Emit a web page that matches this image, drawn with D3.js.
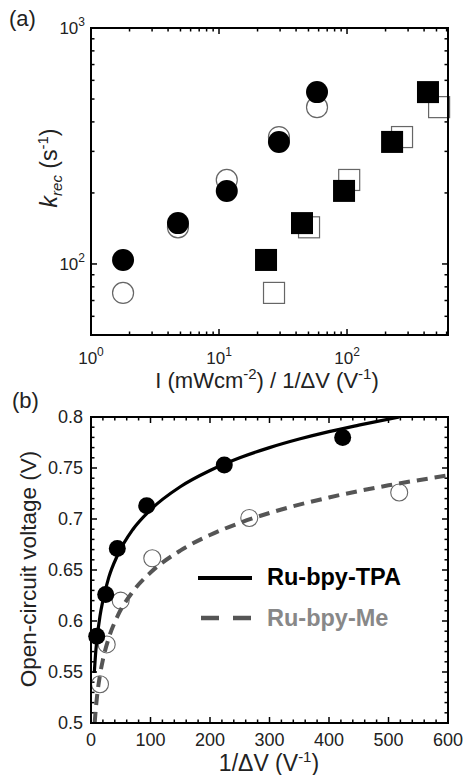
<!DOCTYPE html>
<html><head><meta charset="utf-8">
<script src="https://cdn.jsdelivr.net/npm/d3@7"></script>
<style>
html,body{margin:0;padding:0;background:#fff;}
svg{display:block;font-family:"Liberation Sans",Arial,sans-serif;}
</style></head>
<body>
<svg id="chart" width="465" height="775"></svg>
<script>
// ---------- Panel (a) data ----------
const aCircX      = [1.78, 4.78, 11.5, 29.4, 58.3];
const aFilledY    = [104, 149, 204, 329, 535];
const aOpenY      = [75.4, 143, 227, 345, 462];
const aSqFilledX  = [23.3, 44.5, 94.8, 225, 429];
const aSqOpenX    = [26.9, 50.5, 104, 269, 524];
const aXTickVals  = [1, 10, 100];
const aXTickLabels = ["0", "1", "2"];
const aYTickVals  = [100, 1000];
const aYTickLabels = ["2", "3"];

// ---------- Panel (b) data ----------
const bTpaX = [9.6, 24.7, 44.2, 93.6, 224, 423];
const bTpaY = [0.585, 0.626, 0.671, 0.713, 0.753, 0.780];
const bMeX  = [15.1, 26.4, 49.9, 103, 266, 518];
const bMeY  = [0.538, 0.577, 0.620, 0.6615, 0.701, 0.726];
// fitted curves
const fitTpaX = [5.5, 8, 10, 15, 20, 30, 45, 70, 100, 150, 200, 250, 300, 350, 400, 450, 518];
const fitTpaY = [0.549, 0.570, 0.582, 0.6045, 0.620, 0.643, 0.665, 0.6895, 0.709, 0.7316, 0.7475, 0.760, 0.770, 0.7784, 0.7857, 0.792, 0.800];
const fitMeX  = [6.2, 8, 10, 15, 20, 30, 45, 70, 100, 150, 200, 250, 300, 400, 500, 600];
const fitMeY  = [0.500, 0.5134, 0.5253, 0.5468, 0.562, 0.5836, 0.6052, 0.6286, 0.6475, 0.669, 0.6843, 0.6962, 0.7059, 0.7211, 0.733, 0.7427];
const bXTicks = [0, 100, 200, 300, 400, 500, 600];
const bYTicks = [0.5, 0.55, 0.6, 0.65, 0.7, 0.75, 0.8];
const legendNames = ["Ru-bpy-TPA", "Ru-bpy-Me"];

const svg = d3.select("#chart");
const L = 91, R = 448;
const TXT = "#222";

// ================= Panel (a) =================
const aTop = 28, aBot = 335;
const ax = d3.scaleLog().domain([1, 615]).range([L, R]);
const ay = d3.scaleLog().domain([50, 1000]).range([aBot, aTop]);
const ga = svg.append("g");

const axMinor = [];
[1, 10, 100].forEach(d => { for (let k = 2; k <= 9; k++) { const v = d * k; if (v < 615) axMinor.push(v); } });
const ayMinor = [];
[10, 100].forEach(d => { for (let k = 2; k <= 9; k++) { const v = d * k; if (v > 50 && v < 1000) ayMinor.push(v); } });

function ticksX(g, scale, vals, y0, dir, len) {
  g.selectAll(null).data(vals).enter().append("line")
    .attr("x1", d => scale(d)).attr("x2", d => scale(d))
    .attr("y1", y0).attr("y2", y0 + dir * len)
    .attr("stroke", "#000").attr("stroke-width", 1.5);
}
function ticksY(g, scale, vals, x0, dir, len) {
  g.selectAll(null).data(vals).enter().append("line")
    .attr("y1", d => scale(d)).attr("y2", d => scale(d))
    .attr("x1", x0).attr("x2", x0 + dir * len)
    .attr("stroke", "#000").attr("stroke-width", 1.5);
}
ticksX(ga, ax, aXTickVals, aBot, -1, 6); ticksX(ga, ax, aXTickVals, aTop, 1, 6);
ticksX(ga, ax, axMinor, aBot, -1, 3.5); ticksX(ga, ax, axMinor, aTop, 1, 3.5);
ticksY(ga, ay, aYTickVals, L, 1, 6); ticksY(ga, ay, aYTickVals, R, -1, 6);
ticksY(ga, ay, ayMinor, L, 1, 3.5); ticksY(ga, ay, ayMinor, R, -1, 3.5);

ga.selectAll(".oc").data(aCircX).enter().append("circle")
  .attr("cx", d => ax(d)).attr("cy", (d, i) => ay(aOpenY[i])).attr("r", 10.5)
  .attr("fill", "#fff").attr("stroke", "#666").attr("stroke-width", 1.2);
ga.selectAll(".os").data(aSqOpenX).enter().append("rect")
  .attr("x", d => ax(d) - 10.5).attr("y", (d, i) => ay(aOpenY[i]) - 10.5)
  .attr("width", 21).attr("height", 21)
  .attr("fill", "#fff").attr("stroke", "#666").attr("stroke-width", 1.2);
ga.selectAll(".fc").data(aCircX).enter().append("circle")
  .attr("cx", d => ax(d)).attr("cy", (d, i) => ay(aFilledY[i])).attr("r", 11)
  .attr("fill", "#000");
ga.selectAll(".fs").data(aSqFilledX).enter().append("rect")
  .attr("x", d => ax(d) - 11).attr("y", (d, i) => ay(aFilledY[i]) - 11)
  .attr("width", 22).attr("height", 22).attr("fill", "#000");

ga.append("rect").attr("x", L).attr("y", aTop).attr("width", R - L).attr("height", aBot - aTop)
  .attr("fill", "none").attr("stroke", "#000").attr("stroke-width", 2);

aXTickVals.forEach((v, i) => {
  const t = ga.append("text").attr("x", ax(v)).attr("y", 364).attr("text-anchor", "middle")
    .attr("font-size", 17).attr("fill", TXT);
  t.append("tspan").text("10");
  t.append("tspan").attr("dy", -8).attr("font-size", 12).text(aXTickLabels[i]);
});
aYTickVals.forEach((v, i) => {
  const t = ga.append("text").attr("x", 85).attr("y", ay(v) + 6).attr("text-anchor", "end")
    .attr("font-size", 17).attr("fill", TXT);
  t.append("tspan").text("10");
  t.append("tspan").attr("dy", -8).attr("font-size", 12).text(aYTickLabels[i]);
});

{
  const t = ga.append("text").attr("x", 267).attr("y", 388).attr("text-anchor", "middle")
    .attr("font-size", 22).attr("fill", TXT);
  t.append("tspan").text("I (mWcm");
  t.append("tspan").attr("dy", -9).attr("font-size", 15).text("-2");
  t.append("tspan").attr("dy", 9).text(") / 1/\u0394V (V");
  t.append("tspan").attr("dy", -9).attr("font-size", 15).text("-1");
  t.append("tspan").attr("dy", 9).text(")");
}
{
  const t = ga.append("text").attr("transform", "translate(57,168) rotate(-90)")
    .attr("text-anchor", "middle").attr("font-size", 23).attr("fill", TXT);
  t.append("tspan").attr("font-style", "italic").text("k");
  t.append("tspan").attr("font-style", "italic").attr("font-size", 15).attr("dy", 5).text("rec");
  t.append("tspan").attr("dy", -5).text(" (s");
  t.append("tspan").attr("dy", -9).attr("font-size", 15).text("-1");
  t.append("tspan").attr("dy", 9).text(")");
}
svg.append("text").attr("x", 9).attr("y", 26).attr("font-size", 22).attr("fill", TXT).text("(a)");

// ================= Panel (b) =================
const bTop = 417, bBot = 723;
const bx = d3.scaleLinear().domain([0, 600]).range([L, R]);
const by = d3.scaleLinear().domain([0.5, 0.8]).range([bBot, bTop]);
const gb = svg.append("g");

const bxMinor = d3.range(0, 601, 20).filter(v => v % 100 !== 0);
const byMinor = d3.range(50, 81, 1).filter(v => v % 5 !== 0).map(v => v / 100);
ticksX(gb, bx, bXTicks, bBot, -1, 6); ticksX(gb, bx, bXTicks, bTop, 1, 6);
ticksX(gb, bx, bxMinor, bBot, -1, 3.5); ticksX(gb, bx, bxMinor, bTop, 1, 3.5);
ticksY(gb, by, bYTicks, L, 1, 6); ticksY(gb, by, bYTicks, R, -1, 6);
ticksY(gb, by, byMinor, L, 1, 3.5); ticksY(gb, by, byMinor, R, -1, 3.5);

gb.append("clipPath").attr("id", "clipb").append("rect")
  .attr("x", L).attr("y", bTop).attr("width", R - L).attr("height", bBot - bTop);

gb.selectAll(".bo").data(bMeX).enter().append("circle")
  .attr("cx", d => bx(d)).attr("cy", (d, i) => by(bMeY[i])).attr("r", 8.5)
  .attr("fill", "none").attr("stroke", "#666").attr("stroke-width", 1.1);
gb.selectAll(".bf").data(bTpaX).enter().append("circle")
  .attr("cx", d => bx(d)).attr("cy", (d, i) => by(bTpaY[i])).attr("r", 8.5)
  .attr("fill", "#000");

const line = d3.line().x(d => bx(d[0])).y(d => by(d[1])).curve(d3.curveMonotoneX);
gb.append("path").datum(fitMeX.map((x, i) => [x, fitMeY[i]]))
  .attr("d", line).attr("fill", "none").attr("stroke", "#555").attr("stroke-width", 4)
  .attr("stroke-dasharray", "11,7").attr("clip-path", "url(#clipb)");
gb.append("path").datum(fitTpaX.map((x, i) => [x, fitTpaY[i]]))
  .attr("d", line).attr("fill", "none").attr("stroke", "#000").attr("stroke-width", 3.2)
  .attr("clip-path", "url(#clipb)");

gb.append("rect").attr("x", L).attr("y", bTop).attr("width", R - L).attr("height", bBot - bTop)
  .attr("fill", "none").attr("stroke", "#000").attr("stroke-width", 2);

gb.selectAll(".xl").data(bXTicks).enter().append("text")
  .attr("x", d => bx(d)).attr("y", 746).attr("text-anchor", "middle")
  .attr("font-size", 18).attr("fill", TXT).text(d => d);
gb.selectAll(".yl").data(bYTicks).enter().append("text")
  .attr("x", 83).attr("y", d => by(d) + 6).attr("text-anchor", "end")
  .attr("font-size", 18).attr("fill", TXT).text(d => d3.format("")(d));

{
  const t = gb.append("text").attr("x", 269).attr("y", 771).attr("text-anchor", "middle")
    .attr("font-size", 23).attr("fill", TXT);
  t.append("tspan").text("1/\u0394V (V");
  t.append("tspan").attr("dy", -9).attr("font-size", 15).text("-1");
  t.append("tspan").attr("dy", 9).text(")");
}
gb.append("text").attr("transform", "translate(36,569) rotate(-90)")
  .attr("text-anchor", "middle").attr("font-size", 22.5).attr("fill", TXT)
  .text("Open-circuit voltage (V)");
svg.append("text").attr("x", 12).attr("y", 408).attr("font-size", 22).attr("fill", TXT).text("(b)");

// legend
gb.append("line").attr("x1", 198).attr("x2", 252).attr("y1", 578).attr("y2", 578)
  .attr("stroke", "#000").attr("stroke-width", 4);
gb.append("text").attr("x", 267).attr("y", 585).attr("font-size", 23.5).attr("font-weight", "bold")
  .attr("fill", "#000").text(legendNames[0]);
gb.append("line").attr("x1", 201).attr("x2", 252).attr("y1", 618).attr("y2", 618)
  .attr("stroke", "#555").attr("stroke-width", 4.5).attr("stroke-dasharray", "18,14");
gb.append("text").attr("x", 267).attr("y", 626).attr("font-size", 23.5).attr("font-weight", "bold")
  .attr("fill", "#888").text(legendNames[1]);
</script>
</body></html>
